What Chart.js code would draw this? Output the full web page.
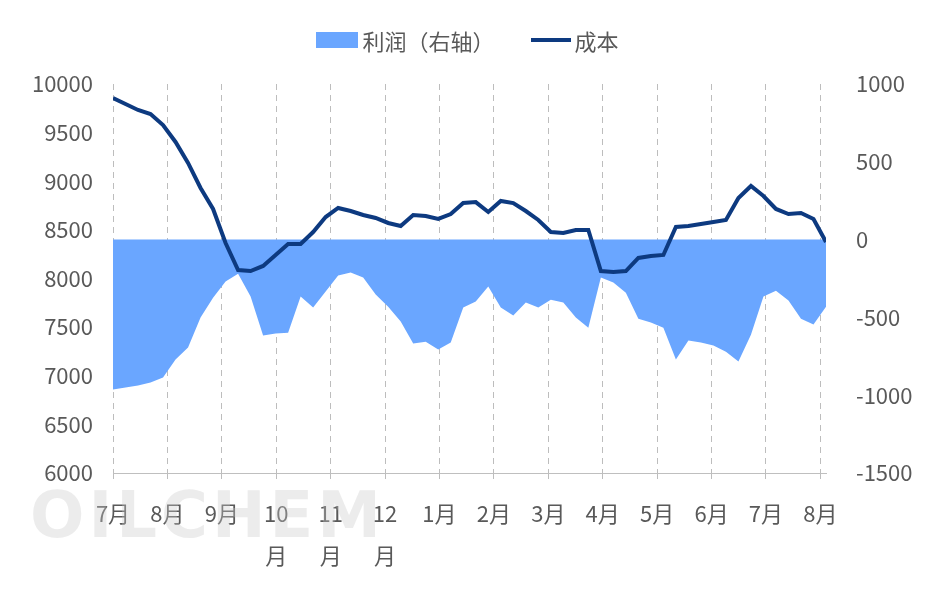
<!DOCTYPE html>
<html><head><meta charset="utf-8">
<script src="https://cdn.jsdelivr.net/npm/chart.js@4"></script>
<style>
body{margin:0;background:#fff;font-family:"Noto Sans CJK SC","Noto Sans",sans-serif}
#wrap{position:relative;width:935px;height:591px}
#legend{position:absolute;top:20px;left:0;width:935px;text-align:center;font-size:22px;color:#595959}
#legend span{display:inline-block;vertical-align:middle}
#mark{position:absolute;left:30px;top:478px;font:bold 64px "DejaVu Sans",sans-serif;color:rgba(200,200,200,0.35);letter-spacing:4px}
</style></head><body>
<div id="wrap">
<div id="mark">OILCHEM</div>
<div id="legend"><span style="width:42px;height:16px;background:#6aa6ff;margin-right:4px"></span><span>利润（右轴）</span><span style="width:40px;height:4px;background:#0d3a80;margin:0 4px 0 36px"></span><span>成本</span></div>
<canvas id="c" width="935" height="591"></canvas>
</div>
<script>
const monthLabels = ['7月','8月','9月',['10','月'],['11','月'],['12','月'],'1月','2月','3月','4月','5月','6月','7月','8月'];
// week position where each month starts
const monthPos = [0,4.35,8.7,13.05,17.4,21.75,26.1,30.45,34.8,39.15,43.5,47.85,52.2,56.55];
const cost = [9856,9794,9733,9691,9578,9404,9188,8931,8715,8365,8087,8077,8129,8242,8355,8355,8478,8632,8725,8694,
  8653,8622,8571,8540,8653,8643,8612,8663,8776,8786,8684,8797,8776,8694,8602,8478,8468,8499,8499,8077,
  8067,8077,8211,8231,8242,8530,8540,8561,8581,8602,8828,8951,8848,8715,8663,8674,8612,8375];
const profit = [-964,-951,-938,-919,-887,-771,-694,-501,-373,-270,-219,-366,-617,-604,-598,-366,-437,-334,-231,-212,
  -244,-353,-431,-527,-668,-656,-707,-662,-437,-398,-302,-437,-488,-405,-437,-386,-405,-501,-566,-244,
  -276,-341,-508,-533,-566,-771,-649,-662,-681,-720,-784,-611,-366,-328,-392,-508,-546,-431];

const font = { size: 22, family: '"Noto Sans CJK SC"', lineHeight: 1.9 };

new Chart(document.getElementById('c'), {
  type: 'line',
  data: {
    datasets: [
      { label: '成本', data: cost.map((v, i) => ({ x: i, y: v })), yAxisID: 'y', borderColor: '#0d3a80',
        borderWidth: 4, pointRadius: 0, tension: 0, order: 1 },
      { label: '利润（右轴）', data: profit.map((v, i) => ({ x: i, y: v })), yAxisID: 'y1',
        backgroundColor: '#6aa6ff', borderWidth: 0, fill: 'origin', pointRadius: 0, tension: 0, order: 2 }
    ]
  },
  options: {
    responsive: false, animation: false,
    layout: { padding: { top: 84, left: 0, right: 0, bottom: 0 } },
    plugins: { legend: { display: false }, tooltip: { enabled: false } },
    scales: {
      x: {
        type: 'linear', min: 0, max: cost.length - 1,
        afterBuildTicks: s => { s.ticks = monthPos.map(v => ({ value: v })); },
        afterFit: s => { s.height = 118; },
        grid: { color: '#bdbdbd', tickLength: 6 },
        border: { color: '#bfbfbf', dash: [6, 5] },
        ticks: { autoSkip: false, maxRotation: 0, color: '#595959', padding: 14, font,
          callback: (v, i) => monthLabels[i] }
      },
      y: {
        min: 6000, max: 10000, afterFit: s => { s.width = 113; },
        ticks: { stepSize: 500, color: '#595959', padding: 12, font: { size: 22, family: '"Noto Sans CJK SC"' },
          callback: v => String(v) },
        grid: { display: false }, border: { display: false }
      },
      y1: {
        position: 'right', min: -1500, max: 1000, afterFit: s => { s.width = 109; },
        ticks: { stepSize: 500, color: '#595959', padding: 22, font: { size: 22, family: '"Noto Sans CJK SC"' },
          callback: v => String(v) },
        grid: { display: false }, border: { display: false }
      }
    }
  }
});
</script>
</body></html>
